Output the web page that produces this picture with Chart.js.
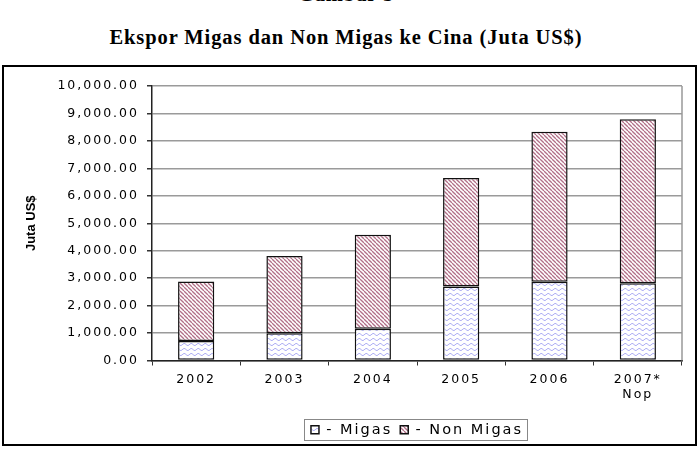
<!DOCTYPE html>
<html>
<head>
<meta charset="utf-8">
<script src="https://cdn.jsdelivr.net/npm/chart.js@4.4.1/dist/chart.umd.min.js"></script>
<style>
  body { margin: 0; width: 700px; height: 450px; background: #fff; overflow: hidden; position: relative; }
  .title { position: absolute; left: 0; width: 692px; text-align: center; font-family: "Liberation Serif", serif; font-weight: bold; font-size: 20.5px; letter-spacing: 0.9px; color: #000; }
  #box { position: absolute; left: 2px; top: 65px; width: 691px; height: 377px; border: 2px solid #000; }
  #chart1 { display: block; }
</style>
</head>
<body>
<div class="title" style="top:-17px">Gambar 5</div>
<div class="title" style="top:26px">Ekspor Migas dan Non Migas ke Cina (Juta US$)</div>
<div id="box"><canvas id="chart1" width="691" height="377"></canvas></div>
<script>
'use strict';

const years = ['2002', '2003', '2004', '2005', '2006', ['2007*', 'Nop']];
const migas = [710, 990, 1160, 2700, 2870, 2810];
const nonMigas = [2170, 2820, 3420, 3950, 5460, 5980];
const yTicks = [0, 1000, 2000, 3000, 4000, 5000, 6000, 7000, 8000, 9000, 10000];
const yTitle = 'Juta US$';

function waves() {
  const c = document.createElement('canvas');
  c.width = 7; c.height = 5;
  const x = c.getContext('2d');
  x.fillStyle = '#fff';
  x.fillRect(0, 0, 7, 5);
  x.strokeStyle = '#b0b0f4';
  x.lineWidth = 1;
  x.beginPath();
  for (let i = 0; i <= 7; i++) {
    const y = 2.5 + 1.1 * Math.sin(i / 7 * Math.PI * 2);
    if (i === 0) x.moveTo(i, y); else x.lineTo(i, y);
  }
  x.stroke();
  return x.createPattern(c, 'repeat');
}

function stripes() {
  const c = document.createElement('canvas');
  c.width = 4; c.height = 4;
  const x = c.getContext('2d');
  x.fillStyle = '#fff';
  x.fillRect(0, 0, 4, 4);
  x.strokeStyle = '#b26f88';
  x.lineWidth = 1.3;
  for (const o of [-4, 0, 4]) {
    x.beginPath();
    x.moveTo(o, 0);
    x.lineTo(o + 4, 4);
    x.stroke();
  }
  return x.createPattern(c, 'repeat');
}

const spacing = {
  id: 'spacing',
  beforeUpdate(chart) { chart.ctx.letterSpacing = '2px'; },
  beforeDraw(chart) { chart.ctx.letterSpacing = '2px'; }
};

// legend sits under the plot, not under the whole canvas
const legendUnderPlot = {
  id: 'legendUnderPlot',
  afterLayout(chart) {
    const lg = chart.legend;
    lg.left = chart.chartArea.left;
    lg.right = chart.chartArea.right;
    lg.width = lg.right - lg.left;
  }
};

const extras = {
  id: 'extras',
  afterDraw(chart) {
    const ctx = chart.ctx;
    const a = chart.chartArea;
    ctx.save();
    ctx.letterSpacing = '0px';
    ctx.strokeStyle = '#999';
    ctx.lineWidth = 1.5;
    ctx.beginPath();
    ctx.moveTo(a.right, a.top);
    ctx.lineTo(a.right, a.bottom);
    ctx.stroke();
    ctx.fillStyle = '#000';
    ctx.font = 'bold 13px "Liberation Sans"';
    ctx.textAlign = 'center';
    ctx.textBaseline = 'middle';
    ctx.translate(27, (a.top + a.bottom) / 2);
    ctx.rotate(-Math.PI / 2);
    ctx.fillText(yTitle, 0, 0);
    ctx.restore();
    // frame round the legend row
    const lg = chart.legend;
    const pad = lg.options.labels.padding;
    const fs = lg.options.labels.font.size;
    const rowW = lg.lineWidths[0];
    const x0 = (lg.left + pad + lg.right - rowW) / 2;
    const l = Math.round(x0 - 7) + 0.5;
    const r = Math.round(x0 + rowW - pad + 4) + 0.5;
    const t = Math.round(lg.top + pad - 4) + 0.5;
    ctx.save();
    ctx.strokeStyle = '#888';
    ctx.lineWidth = 1;
    ctx.strokeRect(l, t, r - l, Math.round(fs + 6));
    ctx.restore();
  }
};

window.addEventListener('load', run);

function run() {
  const ctx = document.getElementById('chart1').getContext('2d');
  new Chart(ctx, {
    type: 'bar',
    data: {
      labels: years,
      datasets: [
        {
          label: '- Migas',
          data: migas,
          backgroundColor: waves(),
          borderColor: '#111',
          borderWidth: 1.5,
          borderSkipped: false
        },
        {
          label: '- Non Migas',
          data: nonMigas,
          backgroundColor: stripes(),
          borderColor: '#111',
          borderWidth: 1.5,
          borderSkipped: false
        }
      ]
    },
    options: {
      responsive: false,
      animation: false,
      devicePixelRatio: 1,
      layout: { padding: { left: 0, right: 13, top: 19, bottom: -3 } },
      datasets: { bar: { barPercentage: 0.41, categoryPercentage: 1 } },
      scales: {
        x: {
          stacked: true,
          afterFit(scale) { scale.height = 54; },
          grid: { offset: true, drawOnChartArea: false, drawTicks: true, tickLength: 5, tickColor: '#333' },
          border: { color: '#222', width: 1.5 },
          ticks: { color: '#000', padding: 7, font: { family: 'DejaVu Sans', size: 12.5 }, maxRotation: 0 }
        },
        y: {
          stacked: true,
          min: 0,
          max: 10000,
          afterFit(scale) { scale.width = 148; },
          afterBuildTicks(scale) { scale.ticks = yTicks.map(v => ({ value: v })); },
          grid: { color: '#9a9a9a', lineWidth: 1.5, tickLength: 5, tickColor: '#333' },
          border: { color: '#222', width: 1.5 },
          ticks: {
            color: '#000',
            padding: 8,
            font: { family: 'DejaVu Sans', size: 12.5 },
            callback: v => v.toLocaleString('en-US', { minimumFractionDigits: 2, maximumFractionDigits: 2 })
          }
        }
      },
      plugins: {
        legend: {
          position: 'bottom',
          labels: { color: '#000', boxWidth: 8, boxHeight: 8, padding: 8, font: { family: 'DejaVu Sans', size: 14.5 } }
        },
        tooltip: { enabled: false }
      }
    },
    plugins: [spacing, legendUnderPlot, extras]
  });
}
</script>
</body>
</html>
